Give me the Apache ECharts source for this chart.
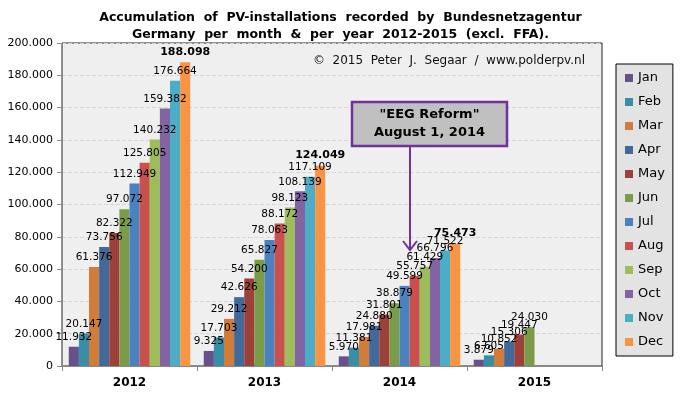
<!DOCTYPE html>
<html>
<head>
<meta charset="utf-8">
<script src="https://cdn.jsdelivr.net/npm/echarts@6/dist/echarts.min.js"></script>
<style>
  html, body { margin: 0; padding: 0; background: #fff; }
  #chart { width: 681px; height: 399px; }
</style>
</head>
<body>
<div id="chart"></div>
<script>
// years on the x axis
var years = ['2012', '2013', '2014', '2015'];
var months = ['Jan', 'Feb', 'Mar', 'Apr', 'May', 'Jun', 'Jul', 'Aug', 'Sep', 'Oct', 'Nov', 'Dec'];
var colors = ['#68508a', '#3a8da6', '#d27c3a', '#42699c', '#9c4039', '#7a9c49',
              '#4a81bf', '#c9504c', '#9dbd5b', '#8264a3', '#4badc6', '#f79545'];

// cumulative counts per month, one array per year
var y2012 = [11932, 20147, 61376, 73756, 82322, 97072, 112949, 125805, 140232, 159382, 176664, 188098];
var y2013 = [9325, 17703, 29212, 42626, 54200, 65827, 78063, 88172, 98123, 108139, 117109, 124049];
var y2014 = [5970, 11381, 17981, 24880, 31801, 38879, 49599, 55757, 61429, 66796, 71522, 75473];
var y2015 = [3879, 6605, 10852, 15306, 19447, 24030, null, null, null, null, null, null];

var yTicks = [0, 20000, 40000, 60000, 80000, 100000, 120000, 140000, 160000, 180000, 200000];

function fmt(v) {
  return String(v).replace(/\B(?=(\d{3})+(?!\d))/g, '.');
}

var chart = echarts.init(document.getElementById('chart'));

var series = months.map(function (m, i) {
  var last = (i === 11);
  return {
    name: m,
    type: 'bar',
    barGap: '0%',
    barCategoryGap: '10%',
    itemStyle: { color: colors[i] },
    label: {
      show: true,
      position: 'top',
      distance: last ? 5 : 4,
      color: '#000',
      fontFamily: 'DejaVu Sans',
      fontSize: last ? 11 : 10.5,
      fontWeight: last ? 'bold' : 'normal',
      formatter: function (p) { return fmt(p.value); }
    },
    data: [y2012[i], y2013[i], y2014[i], y2015[i]]
  };
});

var option = {
  backgroundColor: '#fff',
  animation: false,
  color: colors,
  title: {
    text: 'Accumulation  of  PV-installations  recorded  by  Bundesnetzagentur\nGermany  per  month  &  per  year  2012-2015  (excl.  FFA).',
    left: 'center',
    top: 4,
    textStyle: {
      fontFamily: 'DejaVu Sans',
      fontSize: 12.5,
      fontWeight: 'bold',
      color: '#000',
      lineHeight: 17
    }
  },
  legend: {
    orient: 'vertical',
    left: 616,
    top: 64,
    padding: [7, 8, 7, 9],
    itemWidth: 8,
    itemHeight: 8,
    itemGap: 10,
    icon: 'rect',
    backgroundColor: '#e3e3e3',
    borderColor: '#000',
    borderWidth: 1,
    textStyle: { fontFamily: 'DejaVu Sans', fontSize: 13, color: '#000', lineHeight: 14 },
    data: months
  },
  grid: {
    left: 62,
    right: 79,
    top: 43,
    bottom: 33,
    show: true,
    backgroundColor: '#efefef',
    borderColor: '#222',
    borderWidth: 1
  },
  xAxis: {
    type: 'category',
    data: years,
    axisLine: { lineStyle: { color: '#888' } },
    axisTick: { show: true, length: 5, lineStyle: { color: '#888' } },
    axisLabel: {
      fontFamily: 'DejaVu Sans',
      fontSize: 12,
      fontWeight: 'bold',
      color: '#000',
      margin: 11
    }
  },
  yAxis: {
    type: 'value',
    min: 0,
    max: 200000,
    interval: 20000,
    axisLine: { show: true, lineStyle: { color: '#888' } },
    axisTick: { show: true, length: 5, lineStyle: { color: '#888' } },
    splitLine: { lineStyle: { color: '#d6d6d6', type: 'dashed' } },
    axisLabel: {
      fontFamily: 'DejaVu Sans',
      fontSize: 11,
      color: '#000',
      margin: 9,
      formatter: function (v) { return yTicks.indexOf(v) >= 0 ? fmt(v) : ''; }
    }
  },
  graphic: [
    {
      type: 'text',
      right: 96,
      top: 55,
      style: {
        text: '\u00a9  2015  Peter  J.  Segaar  /  www.polderpv.nl',
        font: '12px "DejaVu Sans"',
        fill: '#111'
      }
    },
    {
      // EEG reform box
      type: 'rect',
      shape: { x: 352, y: 102, width: 155, height: 44 },
      style: { fill: '#c0c0c0', stroke: '#7030a0', lineWidth: 2.5 },
      z: 100
    },
    {
      type: 'text',
      x: 429.5,
      y: 124,
      style: {
        text: '"EEG Reform"\nAugust 1, 2014',
        font: 'bold 13px "DejaVu Sans"',
        fill: '#000',
        textAlign: 'center',
        textVerticalAlign: 'middle',
        lineHeight: 18
      },
      z: 101
    },
    {
      type: 'line',
      shape: { x1: 410, y1: 147, x2: 410, y2: 249 },
      style: { stroke: '#7030a0', lineWidth: 2 },
      z: 100
    },
    {
      type: 'polyline',
      shape: { points: [[403, 241], [410, 250], [417, 241]] },
      style: { stroke: '#7030a0', lineWidth: 2, fill: null },
      z: 100
    }
  ],
  series: series
};

chart.setOption(option);
</script>
</body>
</html>
